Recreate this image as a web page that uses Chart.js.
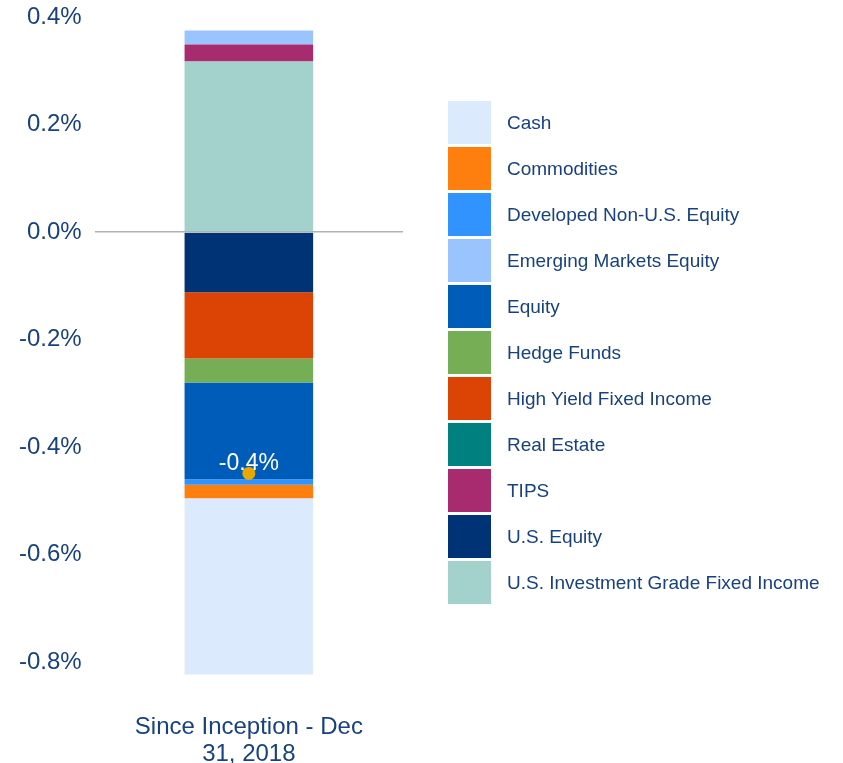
<!DOCTYPE html>
<html>
<head>
<meta charset="utf-8">
<script src="https://cdn.jsdelivr.net/npm/chart.js@4.4.1/dist/chart.umd.min.js"></script>
<style>
    body { margin: 0; background: #ffffff; }
    #wrap { position: relative; width: 843px; height: 763px; }
    #legend { position: absolute; left: 448px; top: 101px; margin: 0; padding: 0; list-style: none; }
    #legend li { display: flex; align-items: center; height: 43px; margin-bottom: 3px;
        font-family: "Liberation Sans", Arial, sans-serif; font-size: 19px; color: #17417f; white-space: nowrap; }
    #legend span.box { display: inline-block; width: 43px; height: 43px; margin-right: 16px; }
</style>
</head>
<body>
<div id="wrap">
    <canvas id="attributionChart" width="843" height="763"></canvas>
    <ul id="legend"></ul>
</div>
<script>
/* values, legend (alphabetical) order */
const periodLabels = [['Since Inception - Dec', '31, 2018']];
const assetClasses = ['Cash', 'Commodities', 'Developed Non-U.S. Equity', 'Emerging Markets Equity', 'Equity',
    'Hedge Funds', 'High Yield Fixed Income', 'Real Estate', 'TIPS', 'U.S. Equity', 'U.S. Investment Grade Fixed Income'];
const assetValues = [-0.328, -0.025, -0.010, 0.026, -0.180, -0.045, -0.123, 0.0, 0.032, -0.112, 0.317];
const assetColours = ['#dbeafd', '#fe7f0e', '#3193fe', '#9ac4fd', '#005cb9', '#75ae55', '#dc4405', '#00807e',
    '#a82a6f', '#003375', '#a3d1cb'];
const totalValues = [-0.449];
const totalLabels = ['-0.4%'];
const yTickValues = [-0.8, -0.6, -0.4, -0.2, 0.0, 0.2, 0.4];

const textColour = '#17417f';
const fontFamily = '"Liberation Sans", Arial, sans-serif';

// stacking starts next to zero with the first dataset, so add them back to front
let barDatasets = [];
for (let i = assetClasses.length - 1; i >= 0; i--) {
    barDatasets.push({
        type: 'bar',
        label: assetClasses[i],
        data: [assetValues[i]],
        backgroundColor: assetColours[i],
        borderWidth: 0,
        barPercentage: 0.417,
        categoryPercentage: 1,
        stack: 'assets',
        order: 1
    });
}

let totalDataset = {
    type: 'line',
    label: 'Total',
    data: totalValues,
    showLine: false,
    pointRadius: 6.5,
    pointHoverRadius: 6.5,
    pointBackgroundColor: '#e9a800',
    pointBorderWidth: 0,
    stack: 'total',
    order: 0
};

// white total label above the dot
const totalLabelPlugin = {
    id: 'totalLabel',
    afterDatasetsDraw(chart) {
        let meta = chart.getDatasetMeta(chart.data.datasets.length - 1);
        let ctx = chart.ctx;
        ctx.save();
        ctx.fillStyle = '#ffffff';
        ctx.font = '23px ' + fontFamily;
        ctx.textAlign = 'center';
        ctx.textBaseline = 'middle';
        meta.data.forEach(function (pt, i) {
            ctx.fillText(totalLabels[i], pt.x, pt.y - 10);
        });
        ctx.restore();
    }
};

let config = {
    data: {
        labels: periodLabels,
        datasets: barDatasets.concat([totalDataset])
    },
    options: {
        responsive: false,
        animation: false,
        layout: { padding: { top: 17, left: 6, right: 440, bottom: 0 } },
        plugins: {
            legend: { display: false },
            tooltip: { enabled: false }
        },
        scales: {
            x: {
                stacked: true,
                grid: { display: false, drawTicks: false },
                border: { display: false },
                // two label lines plus padding, nothing more
                afterFit: function (axis) {
                    axis.height = 74;
                },
                ticks: {
                    color: textColour,
                    padding: 25,
                    maxRotation: 0,
                    font: { family: fontFamily, size: 24, lineHeight: 1.13 }
                }
            },
            y: {
                stacked: true,
                min: -0.85,
                max: 0.4,
                afterBuildTicks: function (axis) {
                    axis.ticks = yTickValues.map(v => ({ value: v }));
                },
                // tick padding would otherwise be added above and below the axis too
                afterFit: function (axis) {
                    axis.paddingTop = 0;
                    axis.paddingBottom = 0;
                },
                grid: {
                    z: 1,
                    drawTicks: false,
                    color: ctx => (ctx.tick && ctx.tick.value === 0 ? '#aeb2b6' : 'rgba(0,0,0,0)'),
                    lineWidth: 1.5
                },
                border: { display: false },
                ticks: {
                    color: textColour,
                    padding: 13,
                    font: { family: fontFamily, size: 24 },
                    callback: v => v.toFixed(1) + '%'
                }
            }
        }
    },
    plugins: [totalLabelPlugin]
};

let attributionChart = new Chart(document.getElementById('attributionChart'), config);

// html legend in alphabetical order
let legendList = document.getElementById('legend');
for (let i = 0; i < assetClasses.length; i++) {
    let li = document.createElement('li');
    let box = document.createElement('span');
    box.className = 'box';
    box.style.background = assetColours[i];
    li.appendChild(box);
    li.appendChild(document.createTextNode(assetClasses[i]));
    legendList.appendChild(li);
}
</script>
</body>
</html>
